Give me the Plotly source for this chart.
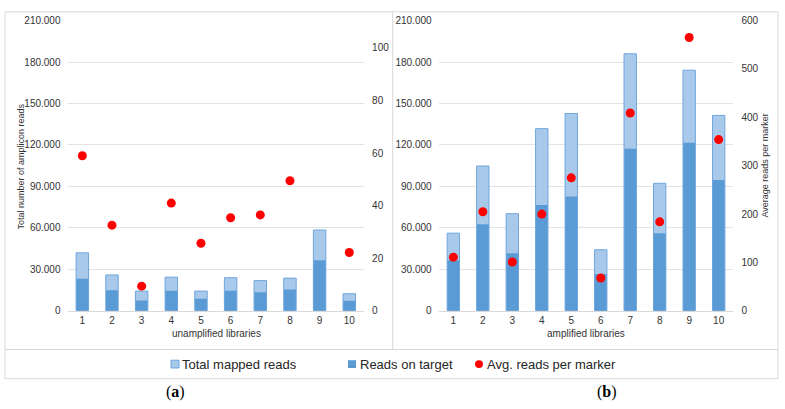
import plotly.graph_objects as go

libraries = [1, 2, 3, 4, 5, 6, 7, 8, 9, 10]
tick_labels = ["1", "2", "3", "4", "5", "6", "7", "8", "9", "10"]

unamp_total = [42000, 26000, 14300, 24400, 14300, 24000, 21900, 23700, 58500, 12400]
unamp_target = [23200, 15000, 7500, 14600, 8700, 14600, 13400, 15500, 36600, 7300]
unamp_avg = [59.0, 32.6, 9.4, 41.0, 25.7, 35.4, 36.5, 49.5, None, 22.2]

amp_total = [56200, 104800, 70300, 131800, 142800, 44200, 186000, 92300, 174100, 141400]
amp_target = [36700, 62700, 41600, 76600, 82700, 26600, 117200, 56200, 121700, 94700]
amp_avg = [111, 205, 101, 200, 275, 68, 409, 184, 565, 354]

left_ticks = [0, 30000, 60000, 90000, 120000, 150000, 180000, 210000]

W, H = 785, 409
def px(x):
    return x / W
def py(y):
    return 1 - y / H

LIGHT = "#A9C9EB"
LIGHT_EDGE = "#6FA5DE"
DARK = "#5B9BD5"
RED = "#FF0000"
GRID = "#E3E3E3"
FRAME = "#D9D9D9"
TXT = "#333333"
FONT = "Liberation Sans, Arial, sans-serif"

fig = go.Figure()

def add_panel(xa, ya, ya2, total, target, avg):
    fig.add_trace(go.Bar(x=libraries, y=total, width=0.42, marker=dict(color=LIGHT, line=dict(color=LIGHT_EDGE, width=1)),
                         xaxis=xa, yaxis=ya, name="Total mapped reads", showlegend=False))
    fig.add_trace(go.Bar(x=libraries, y=target, width=0.40, marker=dict(color=DARK, line=dict(width=0)),
                         xaxis=xa, yaxis=ya, name="Reads on target", showlegend=False))
    fig.add_trace(go.Scatter(x=libraries, y=avg, mode="markers", marker=dict(color=RED, size=9),
                             xaxis=xa, yaxis=ya2, name="Avg. reads per marker", showlegend=False))

add_panel("x", "y", "y2", unamp_total, unamp_target, unamp_avg)
add_panel("x2", "y3", "y4", amp_total, amp_target, amp_avg)

ydom = [py(313.3), py(15)]
tickfont = dict(family=FONT, size=10, color=TXT)
xcommon = dict(range=[0.5, 10.5], tickvals=libraries, ticktext=tick_labels, showline=True, linecolor=FRAME,
               linewidth=1, ticks="", showgrid=False, zeroline=False, tickfont=tickfont, fixedrange=True)
yleft = dict(range=[0, 210000], tickvals=left_ticks, tickformat=",d", showgrid=True, gridcolor=GRID,
             gridwidth=1, zeroline=False, showline=False, ticks="", tickfont=tickfont, ticklabelstandoff=6)
yright = dict(side="right", showgrid=False, zeroline=False, showline=False, ticks="", tickfont=tickfont,
              ticklabelstandoff=7)

fig.update_layout(
    width=W, height=H, autosize=False,
    margin=dict(l=0, r=0, t=0, b=0),
    paper_bgcolor="white", plot_bgcolor="rgba(0,0,0,0)",
    separators=",.",
    barmode="overlay",
    showlegend=False,
    xaxis=dict(domain=[px(67.5), px(364.1)], anchor="y", **xcommon),
    yaxis=dict(domain=ydom, anchor="x", **yleft),
    yaxis2=dict(overlaying="y", anchor="x", range=[0, 110.4], dtick=20, **yright),
    xaxis2=dict(domain=[px(438.6), px(733.4)], anchor="y3", **xcommon),
    yaxis3=dict(domain=ydom, anchor="x2", **yleft),
    yaxis4=dict(overlaying="y3", anchor="x2", range=[0, 600], dtick=100, **yright),
)

shapes = [
    dict(type="rect", xref="paper", yref="paper", x0=px(5), x1=px(778), y0=py(383), y1=py(6),
         line=dict(color=FRAME, width=1), fillcolor="rgba(0,0,0,0)", layer="below"),
    dict(type="line", xref="paper", yref="paper", x0=px(5), x1=px(778), y0=py(353), y1=py(353),
         line=dict(color=FRAME, width=1)),
    dict(type="line", xref="paper", yref="paper", x0=px(392.7), x1=px(392.7), y0=py(353), y1=py(6),
         line=dict(color=FRAME, width=1)),
    # legend symbols
    dict(type="rect", xref="paper", yref="paper", x0=px(171), x1=px(179), y0=py(372), y1=py(364),
         fillcolor=LIGHT, line=dict(color=LIGHT_EDGE, width=1)),
    dict(type="rect", xref="paper", yref="paper", x0=px(348), x1=px(356), y0=py(372), y1=py(364),
         fillcolor=DARK, line=dict(width=0)),
    dict(type="circle", xref="paper", yref="paper", x0=px(475), x1=px(483), y0=py(372), y1=py(364),
         fillcolor=RED, line=dict(width=0)),
]

def ann(text, x, y, size, xanchor="center", angle=0, family=FONT, color=TXT):
    return dict(text=text, x=px(x), y=py(y), xref="paper", yref="paper", showarrow=False,
                xanchor=xanchor, yanchor="middle", textangle=angle,
                font=dict(family=family, size=size, color=color))

annotations = [
    ann("Total number of amplicon reads", 21, 165, 9, angle=-90),
    ann("Average reads per marker", 765, 164, 9, angle=-90),
    ann("unamplified libraries", 216, 337, 10),
    ann("amplified libraries", 586, 337, 10),
    ann("Total mapped reads", 180, 368, 13, xanchor="left", color="#262626"),
    ann("Reads on target", 358, 368, 13, xanchor="left", color="#262626"),
    ann("Avg. reads per marker", 485, 368, 13, xanchor="left", color="#262626"),
    ann("(<b>a</b>)", 175, 397, 16, family="Liberation Serif, Times New Roman, serif", color="black"),
    ann("(<b>b</b>)", 607, 397, 16, family="Liberation Serif, Times New Roman, serif", color="black"),
]

fig.update_layout(shapes=shapes, annotations=annotations)

fig.write_html("out.html", config={"displayModeBar": False},
               post_script="document.body.style.margin='0';")
